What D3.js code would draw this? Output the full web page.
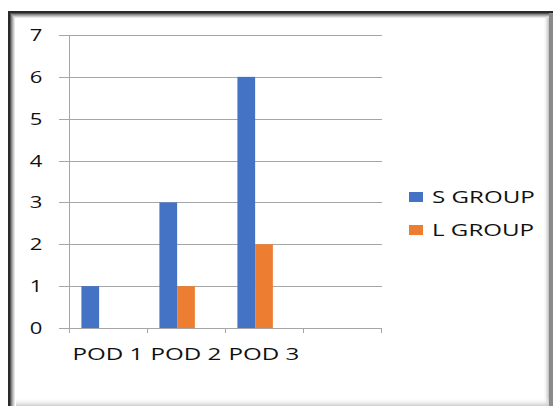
<!DOCTYPE html>
<html>
<head>
<meta charset="utf-8">
<script src="https://cdn.jsdelivr.net/npm/d3@7"></script>
<style>
  html, body { margin: 0; padding: 0; background: #fff; }
  svg { display: block; }
  text { font-family: "Open Sans", sans-serif; fill: #111; }
</style>
</head>
<body>
<svg id="chart" width="554" height="406"></svg>
<script>
// Chart data
const categories = ["POD 1", "POD 2", "POD 3", ""];
const seriesNames = ["S GROUP", "L GROUP"];
const sGroup = [1, 3, 6, null];
const lGroup = [0, 1, 2, null];
const yTicks = [0, 1, 2, 3, 4, 5, 6, 7];
const colors = ["#4472C4", "#ED7D31"];

const svg = d3.select("#chart");
const W = 554, H = 406;
const stretchY = 1.3;   // horizontal stretch of axis digits
const stretchT = 1.42;  // horizontal stretch of word labels

// Frame with soft bevel
const defs = svg.append("defs");
const gR = defs.append("linearGradient").attr("id", "shR").attr("x1", 0).attr("x2", 1);
gR.append("stop").attr("offset", 0).attr("stop-color", "#fff").attr("stop-opacity", 0);
gR.append("stop").attr("offset", 1).attr("stop-color", "#bbb").attr("stop-opacity", 1);
const gB = defs.append("linearGradient").attr("id", "shB").attr("x1", 0).attr("x2", 0).attr("y1", 0).attr("y2", 1);
gB.append("stop").attr("offset", 0).attr("stop-color", "#fff").attr("stop-opacity", 0);
gB.append("stop").attr("offset", 1).attr("stop-color", "#ccc").attr("stop-opacity", 1);

svg.append("rect").attr("x", 543).attr("y", 17).attr("width", 6).attr("height", H - 17).attr("fill", "url(#shR)");
svg.append("rect").attr("x", 16).attr("y", 398).attr("width", 533).attr("height", 8).attr("fill", "url(#shB)");
svg.append("rect").attr("x", 549).attr("y", 13).attr("width", 4).attr("height", H - 13).attr("fill", "#8a8a8a");
// top/left bevel bands
[["#2a2a2a", 0], ["#555", 2], ["#888", 3], ["#aaa", 4], ["#ccc", 5], ["#e6e6e6", 6]].forEach(([c, i]) => {
  svg.append("rect").attr("x", 8 + i).attr("y", 11 + i).attr("width", 553 - 8 - i - (i ? 4 : 0)).attr("height", i ? 1 : 2).attr("fill", c);
  svg.append("rect").attr("x", 8 + i).attr("y", 11 + i).attr("width", i ? 1 : 2).attr("height", H - 11 - i).attr("fill", c);
});

// Scales: each category reserves three bar slots, the third one unused
const x = d3.scaleBand().domain(categories.map((d, i) => i)).range([69, 381]).padding(0);
const xs = d3.scaleBand().domain([0, 1, 2]).range([0, x.bandwidth()]).paddingInner(0).paddingOuter(0.7);
const y = d3.scaleLinear().domain([0, 7]).range([328, 35]);

// Gridlines
svg.append("g").selectAll("line").data(yTicks).join("line")
  .attr("x1", 59).attr("x2", 382)
  .attr("y1", d => Math.round(y(d)) + 0.5).attr("y2", d => Math.round(y(d)) + 0.5)
  .attr("stroke", "#a6a6a6").attr("stroke-width", 1);

// Y axis line
svg.append("line").attr("x1", 69.5).attr("x2", 69.5).attr("y1", y(7)).attr("y2", y(0))
  .attr("stroke", "#a6a6a6");

// X tick marks at category boundaries
const bounds = categories.map((d, i) => x(i)).concat([x.range()[1]]);
svg.append("g").selectAll("line").data(bounds).join("line")
  .attr("x1", d => Math.round(d) + 0.5).attr("x2", d => Math.round(d) + 0.5)
  .attr("y1", y(0)).attr("y2", y(0) + 5)
  .attr("stroke", "#a6a6a6");

// Bars
const series = [sGroup, lGroup];
series.forEach((vals, si) => {
  svg.append("g").selectAll("rect").data(vals.map((v, i) => ({ v, i })).filter(d => d.v)).join("rect")
    .attr("x", d => x(d.i) + xs(si))
    .attr("width", xs.bandwidth())
    .attr("y", d => y(d.v))
    .attr("height", d => y(0) - y(d.v))
    .attr("fill", colors[si]);
});

// Y labels
svg.append("g").selectAll("text").data(yTicks).join("text")
  .attr("transform", d => `translate(36,${y(d)}) scale(${stretchY},1)`)
  .attr("text-anchor", "middle").attr("dy", "0.35em")
  .style("font-size", "17px")
  .text(d => d);

// Category labels
svg.append("g").selectAll("text").data(categories).join("text")
  .attr("transform", (d, i) => `translate(${x(i) + x.bandwidth() / 2},360) scale(${stretchT},1)`)
  .attr("text-anchor", "middle")
  .style("font-size", "17px")
  .text(d => d);

// Legend
const leg = svg.append("g").selectAll("g").data(seriesNames).join("g")
  .attr("transform", (d, i) => `translate(409,${197 + i * 33})`);
leg.append("rect").attr("x", 0).attr("y", -5).attr("width", 14).attr("height", 10)
  .attr("fill", (d, i) => colors[i]);
leg.append("text")
  .attr("transform", `translate(23,6) scale(${stretchT},1)`)
  .style("font-size", "17px")
  .text(d => d);
</script>
</body>
</html>
